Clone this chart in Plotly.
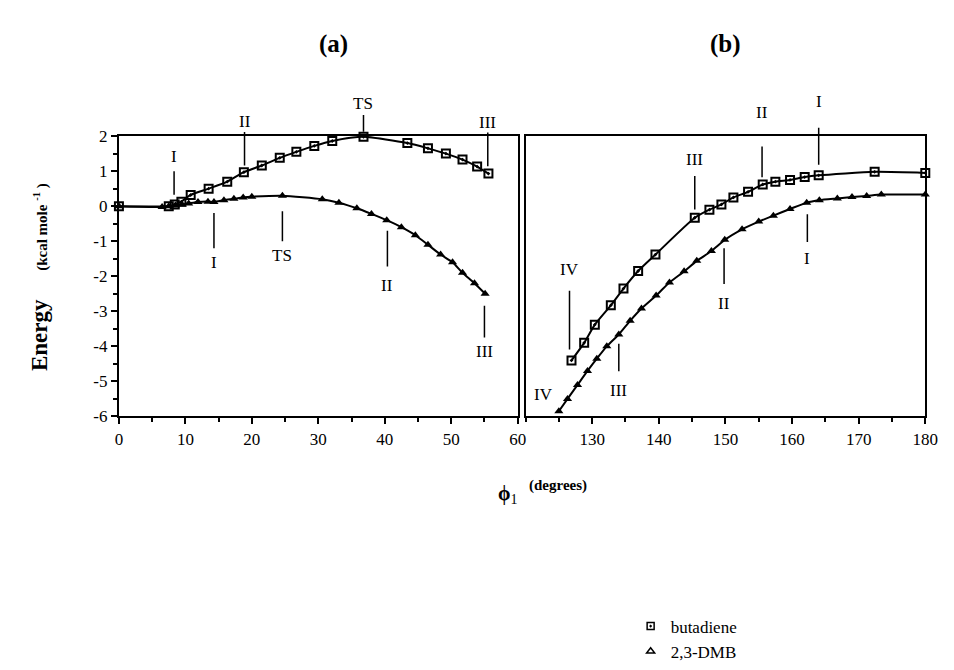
import plotly.graph_objects as go

# ---------------- data ----------------
# panel (a): phi1 0..60
a_but_x = [0, 7.5, 8.4, 9.4, 10.8, 13.5, 16.3, 18.8, 21.5, 24.2, 26.7, 29.4, 32.1, 36.8, 43.4, 46.5, 49.2, 51.7, 53.9, 55.6]
a_but_y = [0, 0.0, 0.05, 0.13, 0.32, 0.5, 0.7, 0.97, 1.16, 1.38, 1.55, 1.72, 1.86, 1.98, 1.8, 1.65, 1.5, 1.33, 1.13, 0.93]
a_dmb_x = [0, 6.5, 7.5, 8.5, 9.5, 10.5, 11.9, 13.4, 14.3, 15.8, 17.3, 18.7, 20.0, 24.6, 30.6, 33.1, 35.8, 38.0, 40.3, 42.5, 44.6, 46.5, 48.4, 50.2, 51.7, 53.5, 55.1]
a_dmb_y = [0, -0.02, 0.0, 0.02, 0.05, 0.08, 0.12, 0.13, 0.12, 0.17, 0.21, 0.25, 0.27, 0.3, 0.2, 0.1, -0.06, -0.22, -0.4, -0.6, -0.83, -1.1, -1.38, -1.6, -1.9, -2.2, -2.5]

# panel (b): phi1 120..180
b_but_x = [126.9, 128.8, 130.4, 132.8, 134.7, 136.9, 139.5, 145.4, 147.6, 149.4, 151.2, 153.4, 155.6, 157.5, 159.7, 161.9, 164.0, 172.4, 180]
b_but_y = [-4.4, -3.9, -3.38, -2.83, -2.35, -1.85, -1.38, -0.33, -0.1, 0.05, 0.25, 0.41, 0.62, 0.7, 0.75, 0.83, 0.88, 0.98, 0.95]
b_dmb_x = [125, 126.3, 127.8, 129.3, 130.7, 132.2, 134, 135.7, 137.4, 139.6, 141.6, 143.8, 145.7, 147.9, 149.9, 152.5, 155, 157.2, 159.7, 162.2, 164.1, 166.8, 169, 171.2, 173.4, 180]
b_dmb_y = [-5.85, -5.5, -5.1, -4.7, -4.35, -4.0, -3.66, -3.27, -2.92, -2.55, -2.18, -1.86, -1.56, -1.28, -0.96, -0.66, -0.44, -0.27, -0.08, 0.1, 0.17, 0.22, 0.26, 0.29, 0.33, 0.33]

# labels: (text, x, line_y_start, line_y_end, label_y)
a_labels = [
    ("I", 8.3, 0.28, 1.0, 1.42),
    ("II", 18.9, 1.12, 2.12, 2.42),
    ("TS", 36.8, 2.08, 2.6, 2.92),
    ("III", 55.5, 1.1, 2.1, 2.4),
    ("I", 14.3, -0.15, -1.2, -1.62),
    ("TS", 24.6, -0.1, -1.0, -1.4),
    ("II", 40.4, -0.66, -1.72, -2.27),
    ("III", 55.0, -2.8, -3.75, -4.15),
]
b_labels = [
    ("IV", 126.6, -4.13, -2.41, -1.8),
    ("III", 145.4, -0.14, 0.86, 1.33),
    ("II", 155.5, 0.78, 1.7, 2.66),
    ("I", 164.0, 1.14, 2.24, 3.0),
    ("III", 134.0, -3.88, -4.71, -5.26),
    ("IV", 122.7, None, None, -5.37),
    ("II", 149.8, -1.16, -2.22, -2.77),
    ("I", 162.3, -0.19, -1.02, -1.5),
]

series_names = ["butadiene", "2,3-DMB"]
y_ticks = [-6, -5, -4, -3, -2, -1, 0, 1, 2]
y_ticktext = ["-6", "-5", "-4", "-3", "-2", "-1", "0", "1", "2"]
xa_ticks = [0, 10, 20, 30, 40, 50, 60]
xb_ticks = [130, 140, 150, 160, 170, 180]
Y_RANGE = [-6, 2]

# ---------------- figure ----------------
FONT = "Liberation Serif"
fig = go.Figure()

sq = dict(symbol="square-open-dot", size=8, color="black", line=dict(color="black", width=2))
tri = dict(symbol="triangle-up", size=8, color="black")
ln = dict(color="black", width=2, shape="spline", smoothing=0.6)

fig.add_trace(go.Scatter(x=a_but_x, y=a_but_y, mode="lines+markers", marker=sq, line=ln,
                         xaxis="x", yaxis="y", showlegend=False, cliponaxis=False))
fig.add_trace(go.Scatter(x=a_dmb_x, y=a_dmb_y, mode="lines+markers", marker=tri, line=ln,
                         xaxis="x", yaxis="y", showlegend=False, cliponaxis=False))
fig.add_trace(go.Scatter(x=b_but_x, y=b_but_y, mode="lines+markers", marker=sq, line=ln,
                         xaxis="x2", yaxis="y2", showlegend=False, cliponaxis=False))
fig.add_trace(go.Scatter(x=b_dmb_x, y=b_dmb_y, mode="lines+markers", marker=tri, line=ln,
                         xaxis="x2", yaxis="y2", showlegend=False, cliponaxis=False))
# legend-only marker entries
fig.add_trace(go.Scatter(x=[None], y=[None], mode="markers", name=series_names[0],
                         marker=dict(symbol="square-open-dot", size=7, color="black", line=dict(width=1.5, color="black"))))
fig.add_trace(go.Scatter(x=[None], y=[None], mode="markers", name=series_names[1],
                         marker=dict(symbol="triangle-up-open", size=7, color="black", line=dict(width=1.5, color="black"))))


def yd(v):
    """data y -> fraction of the y-axis domain (lets labels sit outside the range)."""
    return (v - Y_RANGE[0]) / (Y_RANGE[1] - Y_RANGE[0])


annotations = []
def add_labels(labels, xr, yr):
    ydom = yr + " domain"
    for txt, x, y0, y1, ly in labels:
        if y0 is not None:
            annotations.append(dict(x=x, y=yd(y1), ax=x, ay=yd(y0), xref=xr, yref=ydom, axref=xr, ayref=ydom,
                                    text="", showarrow=True, arrowhead=0, arrowwidth=1.5,
                                    arrowcolor="black", standoff=0, startstandoff=0))
        annotations.append(dict(x=x, y=yd(ly), xref=xr, yref=ydom, text=txt, showarrow=False,
                                xanchor="center", yanchor="middle",
                                font=dict(family=FONT, size=17, color="black")))

add_labels(a_labels, "x", "y")
add_labels(b_labels, "x2", "y2")

W, H = 954, 670
def px(x):
    return x / W
def py(y):
    return 1 - y / H

common_txt = dict(xref="paper", yref="paper", showarrow=False, xanchor="center", yanchor="middle")
annotations += [
    dict(x=px(335), y=py(36), text="<b>(a)</b>", font=dict(family=FONT, size=25, color="black"), **common_txt),
    dict(x=px(735), y=py(36), text="<b>(b)</b>", font=dict(family=FONT, size=25, color="black"), **common_txt),
    dict(x=px(36), y=py(276), textangle=-90,
         text="<b>Energy</b>&nbsp;&nbsp;&nbsp;&nbsp;&nbsp;<b><span style='font-size:15px'>(kcal mole <sup>-1</sup> )</span></b>",
         font=dict(family=FONT, size=23, color="black"), **common_txt),
    dict(x=px(513), y=py(500), text="<b>ϕ</b><sub>1</sub>", font=dict(family=FONT, size=20, color="black"), **common_txt),
    dict(x=px(564), y=py(491), text="<b>(degrees)</b>", font=dict(family=FONT, size=15, color="black"), **common_txt),
]

axis_common = dict(showline=True, linecolor="black", linewidth=2, mirror=True, showgrid=False,
                   zeroline=False, ticks="outside", ticklen=6, tickwidth=1.5, tickcolor="black",
                   tickfont=dict(family=FONT, size=17, color="black"))

fig.update_layout(
    width=W, height=H, margin=dict(l=0, r=0, t=0, b=0),
    paper_bgcolor="white", plot_bgcolor="white",
    showlegend=True,
    legend=dict(x=px(638), y=py(618), xanchor="left", yanchor="top",
                font=dict(family=FONT, size=17, color="black"), bgcolor="rgba(0,0,0,0)",
                tracegroupgap=4, itemwidth=30),
    xaxis=dict(domain=[px(117), px(523)], range=[0, 60], tickvals=xa_ticks,
               minor=dict(dtick=5, ticklen=4, tickcolor="black", ticks="outside"), **axis_common),
    yaxis=dict(domain=[py(420), py(131)], range=Y_RANGE, tickvals=y_ticks, ticktext=y_ticktext,
               minor=dict(dtick=0.5, ticklen=4, tickcolor="black", ticks="outside"), **axis_common),
    xaxis2=dict(domain=[px(531), px(938)], range=[120, 180], tickvals=xb_ticks, anchor="y2",
                minor=dict(dtick=5, ticklen=4, tickcolor="black", ticks="outside"), **axis_common),
    yaxis2=dict(domain=[py(420), py(131)], range=Y_RANGE, anchor="x2", showticklabels=False,
                **{k: v for k, v in axis_common.items() if k not in ("ticks",)}, ticks=""),
    annotations=annotations,
)

fig.write_html("out.html")
